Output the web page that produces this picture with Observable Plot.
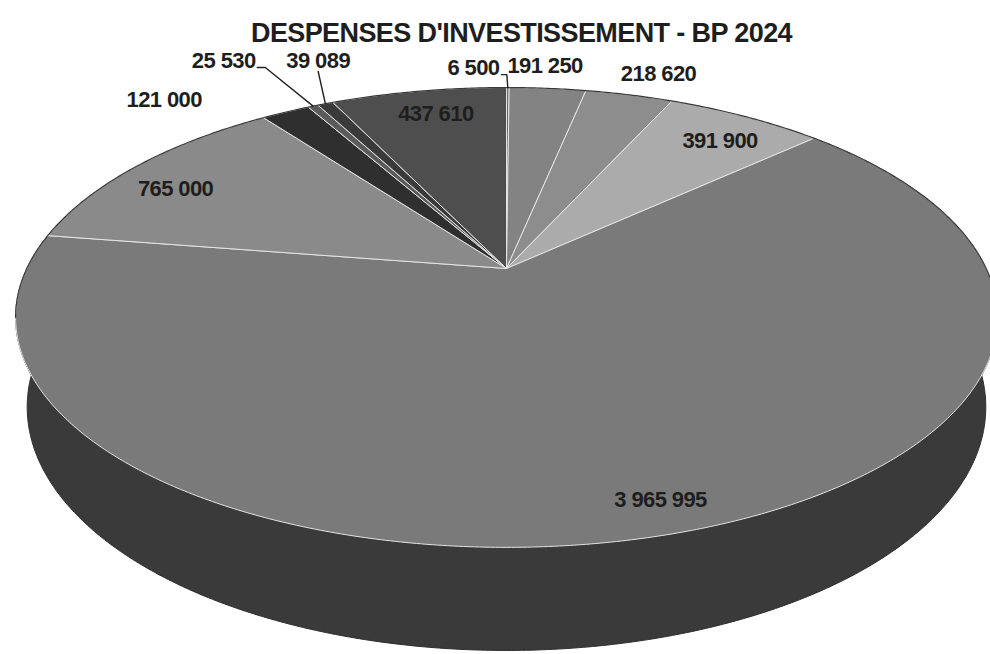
<!DOCTYPE html>
<html><head><meta charset="utf-8">
<script src="https://cdn.jsdelivr.net/npm/d3@7"></script>
<script src="https://cdn.jsdelivr.net/npm/@observablehq/plot@0.6"></script>
<style>
html,body{margin:0;padding:0;background:#fff;}
#chart{width:990px;height:654px;overflow:hidden;}
#chart svg text{letter-spacing:-0.6px;}
</style></head><body><div id="chart"></div>
<script>
// ---- data ----
const title = "DESPENSES D'INVESTISSEMENT - BP 2024";
const values = [6500, 191250, 218620, 391900, 3965995, 765000, 121000, 25530, 39089, 437610];

// ---- styles / layout (kept apart from the data) ----
const topColors = ["#6a6a6a", "#838383", "#8d8d8d", "#ababab", "#7a7a7a", "#8a8a8a", "#2f2f2f", "#5a5a5a", "#3a3a3a", "#4e4e4e"];
const sideColor = "#3a3a3a";
const labelRadius = [1.14, 1.156, 1.163, 0.833, 0.90, 0.846, 1.251, 1.398, 1.285, 0.849];
const labelNudge = [-4.5, -1.0, 1.7, 1.8, 0, -3.4, -10.1, -3.3, 4.2, 1.0];
const leaderKind = ["elbow", null, null, null, null, null, null, "elbow", "drop", null];

const loc = d3.formatLocale({decimal: ",", thousands: " ", grouping: [3], currency: ["", " €"]});
const fmt = loc.format(",d");

// perspective projection of a tilted disc
const W = 990, H = 654, CX = 506, CY = 268;
const F = 2003, DIST = 4.176, SIN = 0.4576, COS = Math.sqrt(1 - SIN * SIN), THICK = 0.211;
function project(r, deg, t = 0) {
  const a = deg * Math.PI / 180;
  const X = r * Math.sin(a), Z = r * Math.cos(a);
  const depth = DIST + Z * COS + t * SIN;
  return {x: F * X / depth, y: F * (Z * SIN - t * COS) / depth};
}
function arc(a0, a1, t = 0) {
  const n = Math.max(2, Math.ceil(Math.abs(a1 - a0) / 0.5));
  return d3.range(n + 1).map(k => project(1, a0 + (a1 - a0) * k / n, t));
}

const total = d3.sum(values);
const cum = [0, ...d3.cumsum(values).map(v => v / total * 360)];

// top faces
const topPts = [];
values.forEach((v, i) => {
  const c = project(0, 0);
  const pts = [c, ...arc(cum[i], cum[i + 1]), c];
  pts.forEach(p => topPts.push({...p, id: i, col: topColors[i]}));
});

// side wall of the big front slice
const big = values.indexOf(d3.max(values));
const sideTop = arc(cum[big], cum[big + 1]);
const sideBot = arc(cum[big], cum[big + 1], THICK).reverse();
const sidePts = [...sideTop, ...sideBot, sideTop[0]].map(p => ({...p, id: "side"}));

// back outline
const backPts = arc(-102.3, 102.3).map(p => ({...p, id: "back"}));

// labels and leaders
const labels = [], leaders = [];
values.forEach((v, i) => {
  const mid = (cum[i] + cum[i + 1]) / 2;
  const L = project(labelRadius[i], mid + labelNudge[i]);
  const text = fmt(v);
  labels.push({x: L.x, y: L.y, text});
  const rim = project(1, mid);
  const hw = text.length * 5.6;
  if (leaderKind[i] === "elbow") {
    const y0 = L.y - 7;
    const x1 = Math.min(L.x + hw + 8, rim.x - 1);
    [{x: L.x + hw, y: y0}, {x: x1, y: y0}, rim].forEach(p => leaders.push({...p, id: i}));
  } else if (leaderKind[i] === "drop") {
    [{x: L.x, y: L.y - 11}, rim].forEach(p => leaders.push({...p, id: i}));
  }
});

const chart = Plot.plot({
  width: W, height: H,
  margin: 0,
  x: {domain: [-CX, W - CX], axis: null},
  y: {domain: [CY - H, CY], axis: null},
  color: {type: "identity"},
  style: {fontFamily: "'Liberation Sans', Arial, sans-serif", background: "#fff"},
  marks: [
    Plot.line(sidePts, {x: "x", y: "y", z: "id", fill: sideColor, stroke: "#2e2e2e", strokeWidth: 1, curve: "linear"}),
    Plot.line(topPts, {x: "x", y: "y", z: "id", fill: "col", stroke: "#e4e4e4", strokeWidth: 1, strokeLinejoin: "round"}),
    Plot.line(backPts, {x: "x", y: "y", stroke: "#3a3a3a", strokeWidth: 1.2}),
    Plot.line(leaders, {x: "x", y: "y", z: "id", stroke: "#222", strokeWidth: 1.4}),
    Plot.text(labels, {x: "x", y: "y", text: "text", fontSize: 22, fontWeight: "bold", fill: "#1e1e1e"}),
    Plot.text([title], {frameAnchor: "top", dx: 26, dy: 22, fontSize: 27, fontWeight: "bold", fill: "#1e1e1e"})
  ]
});
document.getElementById("chart").appendChild(chart);
</script>
</body></html>
